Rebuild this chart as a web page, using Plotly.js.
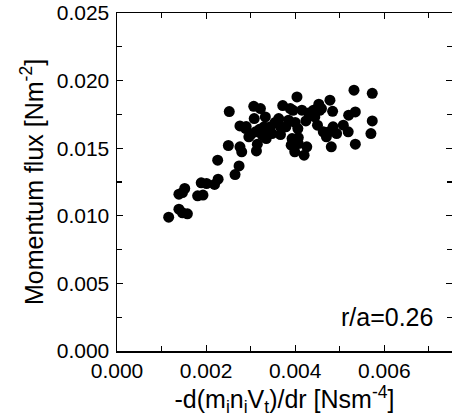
<!DOCTYPE html>
<html>
<head>
<meta charset="utf-8">
<script src="https://cdn.plot.ly/plotly-3.0.1.min.js"></script>
<style>html,body{margin:0;padding:0;background:#fff}#chart{width:452px;height:419px}</style>
</head>
<body>
<div id="chart"></div>
<script>
// -d(m_i n_i V_t)/dr [Nsm^-4]
const gradient = [
  0.00116, 0.00139, 0.00147, 0.00158, 0.00139, 0.00147, 0.00152, 0.00181, 0.00193, 0.00189,
  0.00201, 0.00219, 0.00227, 0.00226, 0.00250, 0.00252, 0.00265, 0.00274, 0.00276, 0.00280,
  0.00276, 0.00289, 0.00296, 0.00307, 0.00308, 0.00311, 0.00315, 0.00313, 0.00322, 0.00330,
  0.00326, 0.00333, 0.00337, 0.00335, 0.00344, 0.00348, 0.00363, 0.00367, 0.00367, 0.00372,
  0.00379, 0.00385, 0.00389, 0.00393, 0.00391, 0.00399, 0.00404, 0.00406, 0.00407, 0.00407,
  0.00415, 0.00420, 0.00426, 0.00424, 0.00433, 0.00441, 0.00444, 0.00450, 0.00453, 0.00459,
  0.00463, 0.00470, 0.00478, 0.00484, 0.00481, 0.00485, 0.00493, 0.00508, 0.00519, 0.00520,
  0.00535, 0.00532, 0.00535, 0.00573, 0.00573, 0.00570, 0.00300, 0.00320, 0.00355, 0.00395,
  0.00400, 0.00430, 0.00455, 0.00475, 0.00290, 0.00340
];
// Momentum flux [Nm^-2]
const flux = [
  0.00990, 0.01049, 0.01022, 0.01015, 0.01160, 0.01172, 0.01202, 0.01148, 0.01153, 0.01244,
  0.01239, 0.01232, 0.01271, 0.01411, 0.01520, 0.01771, 0.01305, 0.01369, 0.01510, 0.01473,
  0.01665, 0.01645, 0.01584, 0.01810, 0.01719, 0.01621, 0.01530, 0.01480, 0.01793, 0.01658,
  0.01596, 0.01731, 0.01633, 0.01571, 0.01658, 0.01608, 0.01719, 0.01658, 0.01601, 0.01815,
  0.01658, 0.01707, 0.01793, 0.01571, 0.01522, 0.01473, 0.01879, 0.01645, 0.01579, 0.01534,
  0.01781, 0.01448, 0.01510, 0.01702, 0.01744, 0.01781, 0.01731, 0.01670, 0.01825, 0.01793,
  0.01621, 0.01584, 0.01855, 0.01773, 0.01510, 0.01658, 0.01608, 0.01670, 0.01621, 0.01744,
  0.01768, 0.01929, 0.01530, 0.01906, 0.01702, 0.01608, 0.01600, 0.01640, 0.01690, 0.01780,
  0.01690, 0.01760, 0.01780, 0.01620, 0.01660, 0.01630
];
const xTicks = [0, 0.002, 0.004, 0.006];
const xTickText = ['0.000', '0.002', '0.004', '0.006'];
const yTicks = [0, 0.005, 0.010, 0.015, 0.020, 0.025];
const yTickText = ['0.000', '0.005', '0.010', '0.015', '0.020', '0.025'];
const label = 'r/a=0.26';

const FONT = 'Liberation Sans, Arial, Helvetica, sans-serif';

const trace = {
  x: gradient, y: flux, type: 'scatter', mode: 'markers',
  marker: {color: '#000', size: 11, line: {width: 0}},
  cliponaxis: false, hoverinfo: 'skip'
};

const axisCommon = {
  showgrid: false, zeroline: false, showline: true, linecolor: '#000', linewidth: 1.5,
  mirror: 'ticks', ticks: 'inside', ticklen: 6, tickwidth: 1.2, tickcolor: '#000',
  tickfont: {family: FONT, size: 21, color: '#000'}
};

const layout = {
  width: 452, height: 419,
  margin: {l: 117, r: 0, t: 13, b: 68, pad: 0},
  paper_bgcolor: '#fff', plot_bgcolor: '#fff',
  showlegend: false,
  xaxis: Object.assign({}, axisCommon, {
    range: [0, 0.00752], tickmode: 'array', tickvals: xTicks, ticktext: xTickText,
    minor: {dtick: 0.001, tick0: 0, ticks: 'inside', ticklen: 5, tickcolor: '#000', tickwidth: 1.2},
    ticklabelstandoff: 0,
    title: {text: '-d(m<sub>i</sub>n<sub>i</sub>V<sub>t</sub>)/dr [Nsm<sup>-4</sup>]',
            font: {family: FONT, size: 25, color: '#000'}, standoff: 1}
  }),
  yaxis: Object.assign({}, axisCommon, {
    range: [0, 0.025], tickmode: 'array', tickvals: yTicks, ticktext: yTickText,
    minor: {dtick: 0.0025, tick0: 0, ticks: 'inside', ticklen: 5, tickcolor: '#000', tickwidth: 1.2},
    ticklabelstandoff: 2,
    title: {text: 'Momentum flux [Nm<sup>-2</sup>]',
            font: {family: FONT, size: 25, color: '#000'}, standoff: 6}
  }),
  annotations: [{
    text: label, xref: 'paper', yref: 'paper', x: 0.95, y: 0.1, xanchor: 'right', yanchor: 'middle',
    showarrow: false, font: {family: FONT, size: 25, color: '#000'}
  }]
};

Plotly.newPlot('chart', [trace], layout, {staticPlot: true, displayModeBar: false});
</script>
</body>
</html>
